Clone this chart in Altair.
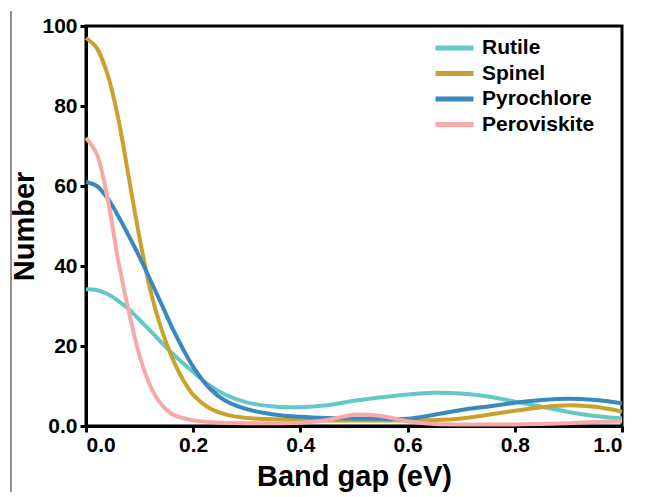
import altair as alt
import pandas as pd

band_gap = [0, 0.02, 0.04, 0.06, 0.08, 0.10, 0.12, 0.14, 0.16, 0.18, 0.20, 0.23, 0.26, 0.30,
            0.35, 0.40, 0.45, 0.50, 0.55, 0.60, 0.65, 0.70, 0.75, 0.80, 0.85, 0.90, 0.95, 1.0]

rutile = [34.2, 34, 33, 31.3, 29.2, 26.5, 23.8, 21, 18.3, 15.8, 13.5, 10.2, 7.8, 5.9,
          4.9, 4.7, 5.2, 6.3, 7.2, 7.9, 8.3, 8.1, 7.4, 6.1, 4.8, 3.5, 2.5, 1.9]
spinel = [97, 94.5, 88, 77, 62, 47, 34, 24.5, 17.3, 11.8, 7.8, 4.5, 2.9, 2.0,
          1.7, 1.5, 1.4, 1.4, 1.4, 1.4, 1.5, 1.9, 2.8, 3.8, 4.7, 5.2, 4.8, 3.6]
pyrochlore = [61, 60, 57, 52.5, 47.5, 42.2, 36.5, 30.7, 24.8, 19.5, 14.8, 9.5, 6.3, 4.2,
              2.9, 2.3, 2.0, 1.9, 1.8, 1.8, 2.8, 4.0, 4.9, 5.8, 6.5, 6.8, 6.5, 5.7]
peroviskite = [72, 68, 57, 41.5, 28.5, 17.5, 10.0, 5.5, 3.0, 2.0, 1.4, 1.0, 0.8, 0.7,
               0.7, 0.8, 1.5, 2.8, 2.5, 1.2, 0.5, 0.4, 0.4, 0.4, 0.5, 0.7, 1.0, 1.2]

series_names = ["Rutile", "Spinel", "Pyrochlore", "Peroviskite"]
series_colors = ["#63c9c6", "#c9a22e", "#3b88bf", "#f8a8a8"]
series_values = [rutile, spinel, pyrochlore, peroviskite]

rows = []
for name, vals in zip(series_names, series_values):
    for x, y in zip(band_gap, vals):
        rows.append({"gap": x, "num": y, "type": name})
df = pd.DataFrame(rows)

FONT = "Liberation Sans"

lines = alt.Chart(df).mark_line(strokeWidth=4, interpolate="catmull-rom").encode(
    x=alt.X("gap:Q", scale=alt.Scale(domain=[0, 1], nice=False),
            axis=alt.Axis(title="Band gap (eV)", values=[0, 0.2, 0.4, 0.6, 0.8, 1.0],
                          format=".1f", grid=False, domainWidth=3, domainColor="black",
                          tickWidth=3, tickColor="black", tickSize=6,
                          labelFont=FONT, labelFontSize=21, labelFontWeight="bold",
                          labelColor="black", labelPadding=2,
                          titleFont=FONT, titleFontSize=29, titleFontWeight="bold",
                          titleColor="black", titlePadding=7)),
    y=alt.Y("num:Q", scale=alt.Scale(domain=[0, 100], nice=False),
            axis=alt.Axis(title="Number", values=[0, 20, 40, 60, 80, 100],
                          labelExpr="datum.value == 0 ? '0.0' : format(datum.value, 'd')",
                          grid=False, domainWidth=3, domainColor="black",
                          tickWidth=3, tickColor="black", tickSize=6,
                          labelFont=FONT, labelFontSize=21, labelFontWeight="bold",
                          labelColor="black", labelPadding=3,
                          titleFont=FONT, titleFontSize=29, titleFontWeight="bold",
                          titleColor="black", titlePadding=2)),
    color=alt.Color("type:N",
                    scale=alt.Scale(domain=series_names, range=series_colors),
                    legend=alt.Legend(title=None, orient="none", legendX=347, legendY=12,
                                      symbolType="stroke", symbolStrokeWidth=5,
                                      symbolSize=1444, labelOffset=6, clipHeight=20,
                                      labelFont=FONT, labelFontSize=21,
                                      labelFontWeight="bold", labelColor="black",
                                      rowPadding=4.5)),
)

edge = alt.Chart(pd.DataFrame({"a": [0]})).mark_rule(color="#222", strokeWidth=1).encode(
    x=alt.value(-75), y=alt.value(-15), y2=alt.value(466)
)

chart = alt.layer(lines, edge).properties(
    width=536, height=400,
    autosize=alt.AutoSizeParams(type="none"),
    padding={"left": 78, "top": 18, "right": 10, "bottom": 71},
).configure_view(stroke="black", strokeWidth=3)

chart.save("out.html", embed_options={"renderer": "svg", "actions": False})
